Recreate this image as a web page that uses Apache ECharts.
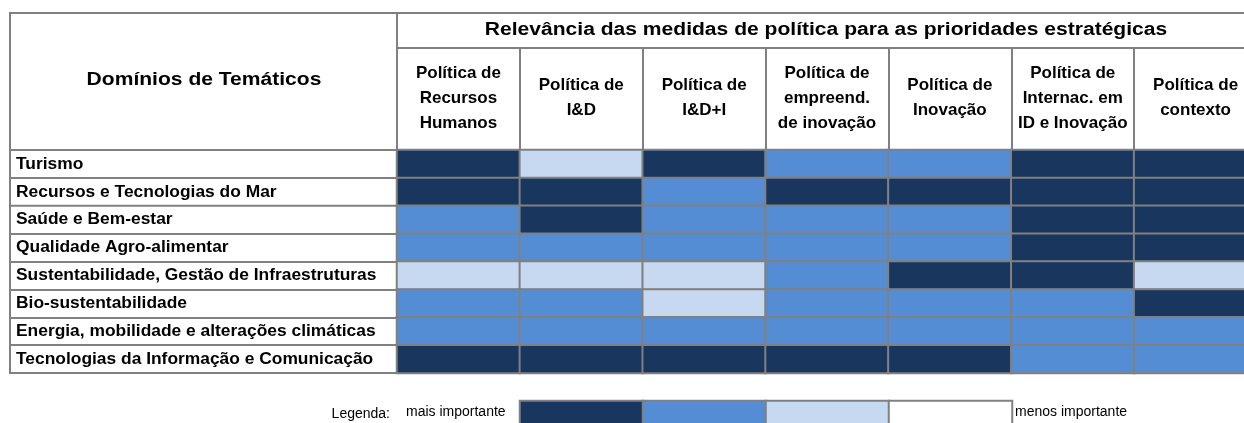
<!DOCTYPE html>
<html>
<head>
<meta charset="utf-8">
<script src="https://cdn.jsdelivr.net/npm/echarts@6/dist/echarts.min.js"></script>
<style>
html,body{margin:0;padding:0;background:#fff;}
#c{width:1244px;height:423px;}
</style>
</head>
<body>
<div id="c"></div>
<script>
// ---- data ----
var domains = [
  'Turismo',
  'Recursos e Tecnologias do Mar',
  'Saúde e Bem-estar',
  'Qualidade Agro-alimentar',
  'Sustentabilidade, Gestão de Infraestruturas',
  'Bio-sustentabilidade',
  'Energia, mobilidade e alterações climáticas',
  'Tecnologias da Informação e Comunicação'
];
var policies = [
  'Política de\nRecursos\nHumanos',
  'Política de\nI&D',
  'Política de\nI&D+I',
  'Política de\nempreend.\nde inovação',
  'Política de\nInovação',
  'Política de\nInternac. em\nID e Inovação',
  'Política de\ncontexto'
];
// 1 = mais importante ... 4 = menos importante
var relevance = [
  [1,3,1,2,2,1,1],
  [1,1,2,1,1,1,1],
  [2,1,2,2,2,1,1],
  [2,2,2,2,2,1,1],
  [3,3,3,2,1,1,3],
  [2,2,3,2,2,2,1],
  [2,2,2,2,2,2,2],
  [1,1,1,1,1,2,2]
];
var legendLevels = [1,2,3,4];
var levelColors = ['#18365e','#548dd4','#c6d9f1','#ffffff'];
var titleText = 'Relevância das medidas de política para as prioridades estratégicas';
var rowHeaderText = 'Domínios de Temáticos';
var legendLabel = 'Legenda:';
var legendHigh = 'mais importante';
var legendLow = 'menos importante';

// ---- chart ----
var GRAY = '#808080';
var FONT = '"Liberation Sans", Arial, Helvetica, sans-serif';
var cells = [];
relevance.forEach(function(row, r){
  row.forEach(function(v, c){ cells.push([c, r, v]); });
});
var legendCells = legendLevels.map(function(v, i){ return [i, 0, v]; });

var chart = echarts.init(document.getElementById('c'), null, {renderer:'canvas'});
chart.setOption({
  animation: false,
  backgroundColor: '#ffffff',
  grid: [
    {left: 397, top: 150, width: 860, height: 223, outerBoundsMode: 'none', containLabel: false},
    {left: 520, top: 401, width: 492, height: 26, outerBoundsMode: 'none', containLabel: false}
  ],
  xAxis: [
    {
      type: 'category', data: policies, position: 'top', gridIndex: 0,
      axisLine: {show: true, lineStyle: {color: GRAY, width: 2}},
      axisTick: {show: true, length: 102, interval: 0, lineStyle: {color: GRAY, width: 2}},
      axisLabel: {
        interval: 0, margin: 52, verticalAlign: 'middle', lineHeight: 25,
        color: '#000', fontFamily: FONT, fontWeight: 'bold', fontSize: 17
      },
      splitLine: {show: false}
    },
    {
      type: 'category', data: legendLevels, gridIndex: 1, show: false
    }
  ],
  yAxis: [
    {
      type: 'category', data: domains, inverse: true, gridIndex: 0,
      axisLine: {show: true, lineStyle: {color: GRAY, width: 2}},
      axisTick: {show: true, length: 387, interval: 0, lineStyle: {color: GRAY, width: 2}},
      axisLabel: {
        interval: 0, margin: 381, align: 'left', verticalAlign: 'middle',
        padding: [0,0,5,0],
        color: '#000', fontFamily: FONT, fontWeight: 'bold', fontSize: 17.4
      },
      splitLine: {show: false}
    },
    {
      type: 'category', data: ['legenda'], gridIndex: 1, show: false
    }
  ],
  visualMap: {
    type: 'piecewise', show: false, dimension: 2, seriesIndex: [0, 1],
    pieces: legendLevels.map(function(v, i){ return {value: v, color: levelColors[i]}; })
  },
  series: [
    {
      type: 'heatmap', xAxisIndex: 0, yAxisIndex: 0, data: cells,
      itemStyle: {borderColor: GRAY, borderWidth: 2},
      emphasis: {disabled: true}, label: {show: false}
    },
    {
      type: 'heatmap', xAxisIndex: 1, yAxisIndex: 1, data: legendCells,
      itemStyle: {borderColor: GRAY, borderWidth: 2},
      emphasis: {disabled: true}, label: {show: false}
    }
  ],
  graphic: [
    // table frame lines
    {type: 'line', shape: {x1: 10, y1: 13, x2: 1244, y2: 13}, style: {stroke: GRAY, lineWidth: 2}, silent: true},
    {type: 'line', shape: {x1: 10, y1: 12, x2: 10, y2: 374}, style: {stroke: GRAY, lineWidth: 2}, silent: true},
    {type: 'line', shape: {x1: 397, y1: 12, x2: 397, y2: 150}, style: {stroke: GRAY, lineWidth: 2}, silent: true},
    {type: 'line', shape: {x1: 397, y1: 48, x2: 1244, y2: 48}, style: {stroke: GRAY, lineWidth: 2}, silent: true},
    // header texts
    {type: 'text', x: 826, y: 30, scaleX: 1.17, silent: true,
      style: {text: titleText, fill: '#000', font: 'bold 18px ' + FONT, textAlign: 'center', textVerticalAlign: 'middle'}},
    {type: 'text', x: 204, y: 80, scaleX: 1.17, silent: true,
      style: {text: rowHeaderText, fill: '#000', font: 'bold 18px ' + FONT, textAlign: 'center', textVerticalAlign: 'middle'}},
    // legend texts
    {type: 'text', x: 390, y: 414, silent: true,
      style: {text: legendLabel, fill: '#000', font: '14px ' + FONT, textAlign: 'right', textVerticalAlign: 'middle'}},
    {type: 'text', x: 406, y: 412, silent: true,
      style: {text: legendHigh, fill: '#000', font: '14px ' + FONT, textAlign: 'left', textVerticalAlign: 'middle'}},
    {type: 'text', x: 1015, y: 412, silent: true,
      style: {text: legendLow, fill: '#000', font: '14px ' + FONT, textAlign: 'left', textVerticalAlign: 'middle'}}
  ]
});
</script>
</body>
</html>
